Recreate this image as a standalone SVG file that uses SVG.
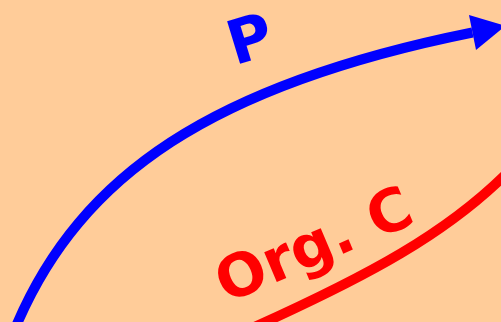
<svg xmlns="http://www.w3.org/2000/svg" width="501" height="322" viewBox="0 0 501 322">
<style>
.lbl{font-family:"DejaVu Sans","Verdana",sans-serif;font-weight:bold}
.flow{fill:none;stroke-width:10}
</style>
<defs>
<marker id="ahBlue" markerUnits="userSpaceOnUse" orient="auto" refX="0" refY="0" markerWidth="40" markerHeight="40" viewBox="0 -20 40 40" overflow="visible">
<path d="M0,-17.8 L33.7,0 L0,17.8 Z" fill="#0000FF"/>
</marker>
</defs>
<rect id="background" x="0" y="0" width="501" height="322" fill="#FFCC99"/>
<g id="connectors">
<path id="flow-P" class="flow" stroke="#0000FF" d="M17,324 C81,175 212,85 472.5,32.5" marker-end="url(#ahBlue)"/>
<path id="flow-OrgC" class="flow" stroke="#FF0000" d="M250,329 C368,276 448,233 510,170"/>
</g>
<g id="label-P">
<text class="lbl" font-size="61" fill="#0000FF" transform="translate(234.7,65.6) rotate(-17)">P</text>
</g>
<g id="label-OrgC">
<text class="lbl" font-size="59" fill="#FF0000" transform="translate(226,303.5) rotate(-23)">Org. C</text>
</g>
</svg>
